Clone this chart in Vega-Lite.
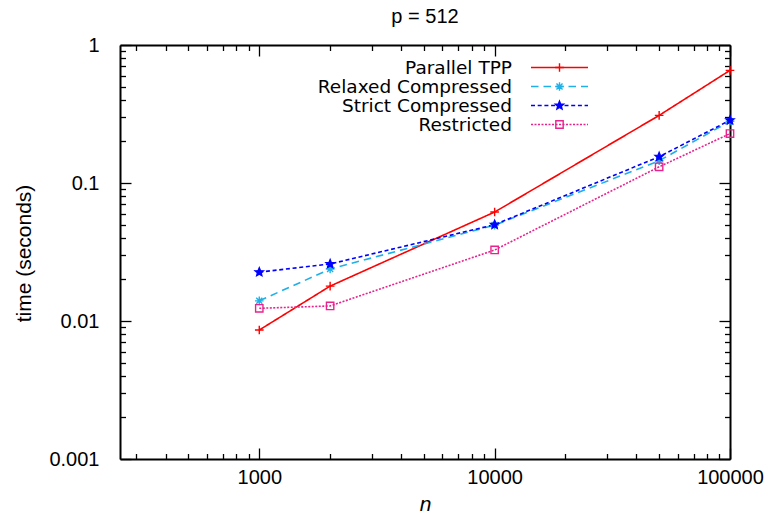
{
  "$schema": "https://vega.github.io/schema/vega-lite/v6.json",
  "width": 610,
  "height": 414,
  "autosize": "none",
  "padding": {"left": 120, "top": 45, "right": 35, "bottom": 54},
  "background": "white",
  "config": {
    "view": {"stroke": null},
    "font": "Liberation Sans",
    "axis": {
      "grid": false,
      "domainColor": "black",
      "domainWidth": 2,
      "tickColor": "black",
      "tickWidth": 1.3,
      "labelColor": "black",
      "labelFont": "Liberation Sans",
      "labelFontSize": 20,
      "titleColor": "black",
      "titleFont": "Liberation Sans",
      "titleFontSize": 21,
      "titleFontWeight": "normal",
      "labelFlush": false,
      "labelOverlap": false,
      "labelBound": false
    }
  },
  "title": {
    "text": "p = 512",
    "fontSize": 20,
    "font": "Liberation Sans",
    "fontWeight": "normal",
    "color": "black",
    "offset": 8,
    "anchor": "middle",
    "frame": "group"
  },
  "data": {
    "values": [
      {"series": "Parallel TPP", "n": 1000, "time": 0.0086},
      {"series": "Parallel TPP", "n": 2000, "time": 0.0179},
      {"series": "Parallel TPP", "n": 10000, "time": 0.0616},
      {"series": "Parallel TPP", "n": 50000, "time": 0.309},
      {"series": "Parallel TPP", "n": 100000, "time": 0.655},
      {"series": "Relaxed Compressed", "n": 1000, "time": 0.014},
      {"series": "Relaxed Compressed", "n": 2000, "time": 0.0238},
      {"series": "Relaxed Compressed", "n": 10000, "time": 0.0495},
      {"series": "Relaxed Compressed", "n": 50000, "time": 0.145},
      {"series": "Relaxed Compressed", "n": 100000, "time": 0.28},
      {"series": "Strict Compressed", "n": 1000, "time": 0.0226},
      {"series": "Strict Compressed", "n": 2000, "time": 0.0259},
      {"series": "Strict Compressed", "n": 10000, "time": 0.0499},
      {"series": "Strict Compressed", "n": 50000, "time": 0.155},
      {"series": "Strict Compressed", "n": 100000, "time": 0.285},
      {"series": "Restricted", "n": 1000, "time": 0.01236},
      {"series": "Restricted", "n": 2000, "time": 0.01285},
      {"series": "Restricted", "n": 10000, "time": 0.0327},
      {"series": "Restricted", "n": 50000, "time": 0.131},
      {"series": "Restricted", "n": 100000, "time": 0.228}
    ]
  },
  "layer": [
    {
      "mark": {"type": "line", "strokeWidth": 1.6},
      "encoding": {
        "x": {
          "field": "n", "type": "quantitative",
          "scale": {"type": "log", "domain": [256, 100000], "nice": false},
          "axis": {"orient": "bottom", "values": [1000, 10000, 100000], "format": "d", "tickSize": -11, "labelPadding": 19.4, "title": "n", "titleFontStyle": "italic", "titleY": 51, "titleBaseline": "alphabetic"}
        },
        "y": {
          "field": "time", "type": "quantitative",
          "scale": {"type": "log", "domain": [0.001, 1], "nice": false},
          "axis": {"orient": "left", "values": [0.001, 0.01, 0.1, 1], "format": "~g", "tickSize": -11, "labelPadding": 32, "title": "time (seconds)", "titleX": -90, "titleY": 208, "titleBaseline": "alphabetic"}
        },
        "color": {
          "field": "series", "type": "nominal",
          "scale": {"domain": ["Parallel TPP", "Relaxed Compressed", "Strict Compressed", "Restricted"], "range": ["#ff0000", "#1fb0e8", "#0000ff", "#e8238e"]},
          "legend": {"orient": "none", "legendX": 430.25, "legendY": 13.25, "title": null, "padding": 0, "symbolType": "M-5.7,0L5.7,0", "symbolSize": 100, "symbolStrokeWidth": 1.6, "labelAlign": "right", "labelOffset": -56.75, "labelFontSize": 18.5, "labelLimit": 400, "labelFont": "DejaVu Sans", "labelColor": "black", "rowPadding": 0, "symbolOffset": 0}
        },
        "strokeDash": {
          "field": "series", "type": "nominal",
          "scale": {"domain": ["Parallel TPP", "Relaxed Compressed", "Strict Compressed", "Restricted"], "range": [[1, 0], [7.5, 5], [4, 2.7], [2, 1.5]]},
          "legend": {"orient": "none", "legendX": 430.25, "legendY": 13.25, "title": null, "padding": 0, "symbolType": "M-5.7,0L5.7,0", "symbolSize": 100, "symbolStrokeWidth": 1.6, "labelAlign": "right", "labelOffset": -56.75, "labelFontSize": 18.5, "labelLimit": 400, "labelFont": "DejaVu Sans", "labelColor": "black", "rowPadding": 0, "symbolOffset": 0}
        }
      }
    },
    {
      "mark": {"type": "point", "strokeWidth": 1.4, "size": 75, "opacity": 1},
      "encoding": {
        "x": {
          "field": "n", "type": "quantitative",
          "axis": {"orient": "bottom", "values": [300, 400, 500, 600, 700, 800, 900, 2000, 3000, 4000, 5000, 6000, 7000, 8000, 9000, 20000, 30000, 40000, 50000, 60000, 70000, 80000, 90000], "tickSize": -5.5, "labels": false, "domain": false, "title": null}
        },
        "y": {
          "field": "time", "type": "quantitative",
          "axis": {"orient": "left", "values": [0.002, 0.003, 0.004, 0.005, 0.006, 0.007, 0.008, 0.009, 0.02, 0.03, 0.04, 0.05, 0.06, 0.07, 0.08, 0.09, 0.2, 0.3, 0.4, 0.5, 0.6, 0.7, 0.8, 0.9], "tickSize": -5.5, "labels": false, "domain": false, "title": null}
        },
        "stroke": {
          "field": "series", "type": "nominal",
          "scale": {"domain": ["Parallel TPP", "Relaxed Compressed", "Strict Compressed", "Restricted"], "range": ["#ff0000", "#1fb0e8", "#0000ff", "#e8238e"]},
          "legend": {"orient": "none", "legendX": 430.25, "legendY": 13.25, "title": null, "padding": 0, "labelAlign": "right", "labelOffset": -56.75, "labelFontSize": 18.5, "labelFont": "DejaVu Sans", "labelLimit": 400, "labelOpacity": 0, "symbolSize": 75, "symbolStrokeWidth": 1.4, "symbolFillColor": "transparent", "rowPadding": 0, "symbolOffset": 0}
        },
        "fill": {
          "field": "series", "type": "nominal",
          "scale": {"domain": ["Parallel TPP", "Relaxed Compressed", "Strict Compressed", "Restricted"], "range": ["transparent", "transparent", "#0000ff", "transparent"]},
          "legend": {"orient": "none", "legendX": 430.25, "legendY": 13.25, "title": null, "padding": 0, "labelAlign": "right", "labelOffset": -56.75, "labelFontSize": 18.5, "labelFont": "DejaVu Sans", "labelLimit": 400, "labelOpacity": 0, "symbolSize": 75, "symbolStrokeWidth": 1.4, "symbolFillColor": "transparent", "rowPadding": 0, "symbolOffset": 0}
        },
        "shape": {
          "field": "series", "type": "nominal",
          "scale": {"domain": ["Parallel TPP", "Relaxed Compressed", "Strict Compressed", "Restricted"], "range": ["M-1,0L1,0M0,-1L0,1", "M-1,0L1,0M0,-1L0,1M-0.7,-0.7L0.7,0.7M-0.7,0.7L0.7,-0.7", "M0,-1L0.26,-0.36L0.95,-0.31L0.43,0.14L0.59,0.81L0,0.45L-0.59,0.81L-0.43,0.14L-0.95,-0.31L-0.26,-0.36Z", "M-0.85,-0.85L0.85,-0.85L0.85,0.85L-0.85,0.85Z"]},
          "legend": {"orient": "none", "legendX": 430.25, "legendY": 13.25, "title": null, "padding": 0, "labelAlign": "right", "labelOffset": -56.75, "labelFontSize": 18.5, "labelFont": "DejaVu Sans", "labelLimit": 400, "labelOpacity": 0, "symbolSize": 75, "symbolStrokeWidth": 1.4, "symbolFillColor": "transparent", "rowPadding": 0, "symbolOffset": 0}
        }
      }
    },
    {
      "mark": {"type": "point", "opacity": 0},
      "encoding": {
        "x": {"field": "n", "type": "quantitative", "axis": {"orient": "top", "values": [1000, 10000, 100000], "tickSize": -11, "labels": false, "title": null}},
        "y": {"field": "time", "type": "quantitative", "axis": {"orient": "right", "values": [0.001, 0.01, 0.1, 1], "tickSize": -11, "labels": false, "title": null}}
      }
    },
    {
      "mark": {"type": "point", "opacity": 0},
      "encoding": {
        "x": {"field": "n", "type": "quantitative", "axis": {"orient": "top", "values": [300, 400, 500, 600, 700, 800, 900, 2000, 3000, 4000, 5000, 6000, 7000, 8000, 9000, 20000, 30000, 40000, 50000, 60000, 70000, 80000, 90000], "tickSize": -5.5, "labels": false, "domain": false, "title": null}},
        "y": {"field": "time", "type": "quantitative", "axis": {"orient": "right", "values": [0.002, 0.003, 0.004, 0.005, 0.006, 0.007, 0.008, 0.009, 0.02, 0.03, 0.04, 0.05, 0.06, 0.07, 0.08, 0.09, 0.2, 0.3, 0.4, 0.5, 0.6, 0.7, 0.8, 0.9], "tickSize": -5.5, "labels": false, "domain": false, "title": null}}
      }
    }
  ],
  "resolve": {
    "axis": {"x": "independent", "y": "independent"},
    "legend": {"color": "independent", "strokeDash": "independent", "shape": "independent", "stroke": "independent", "fill": "independent"}
  }
}
